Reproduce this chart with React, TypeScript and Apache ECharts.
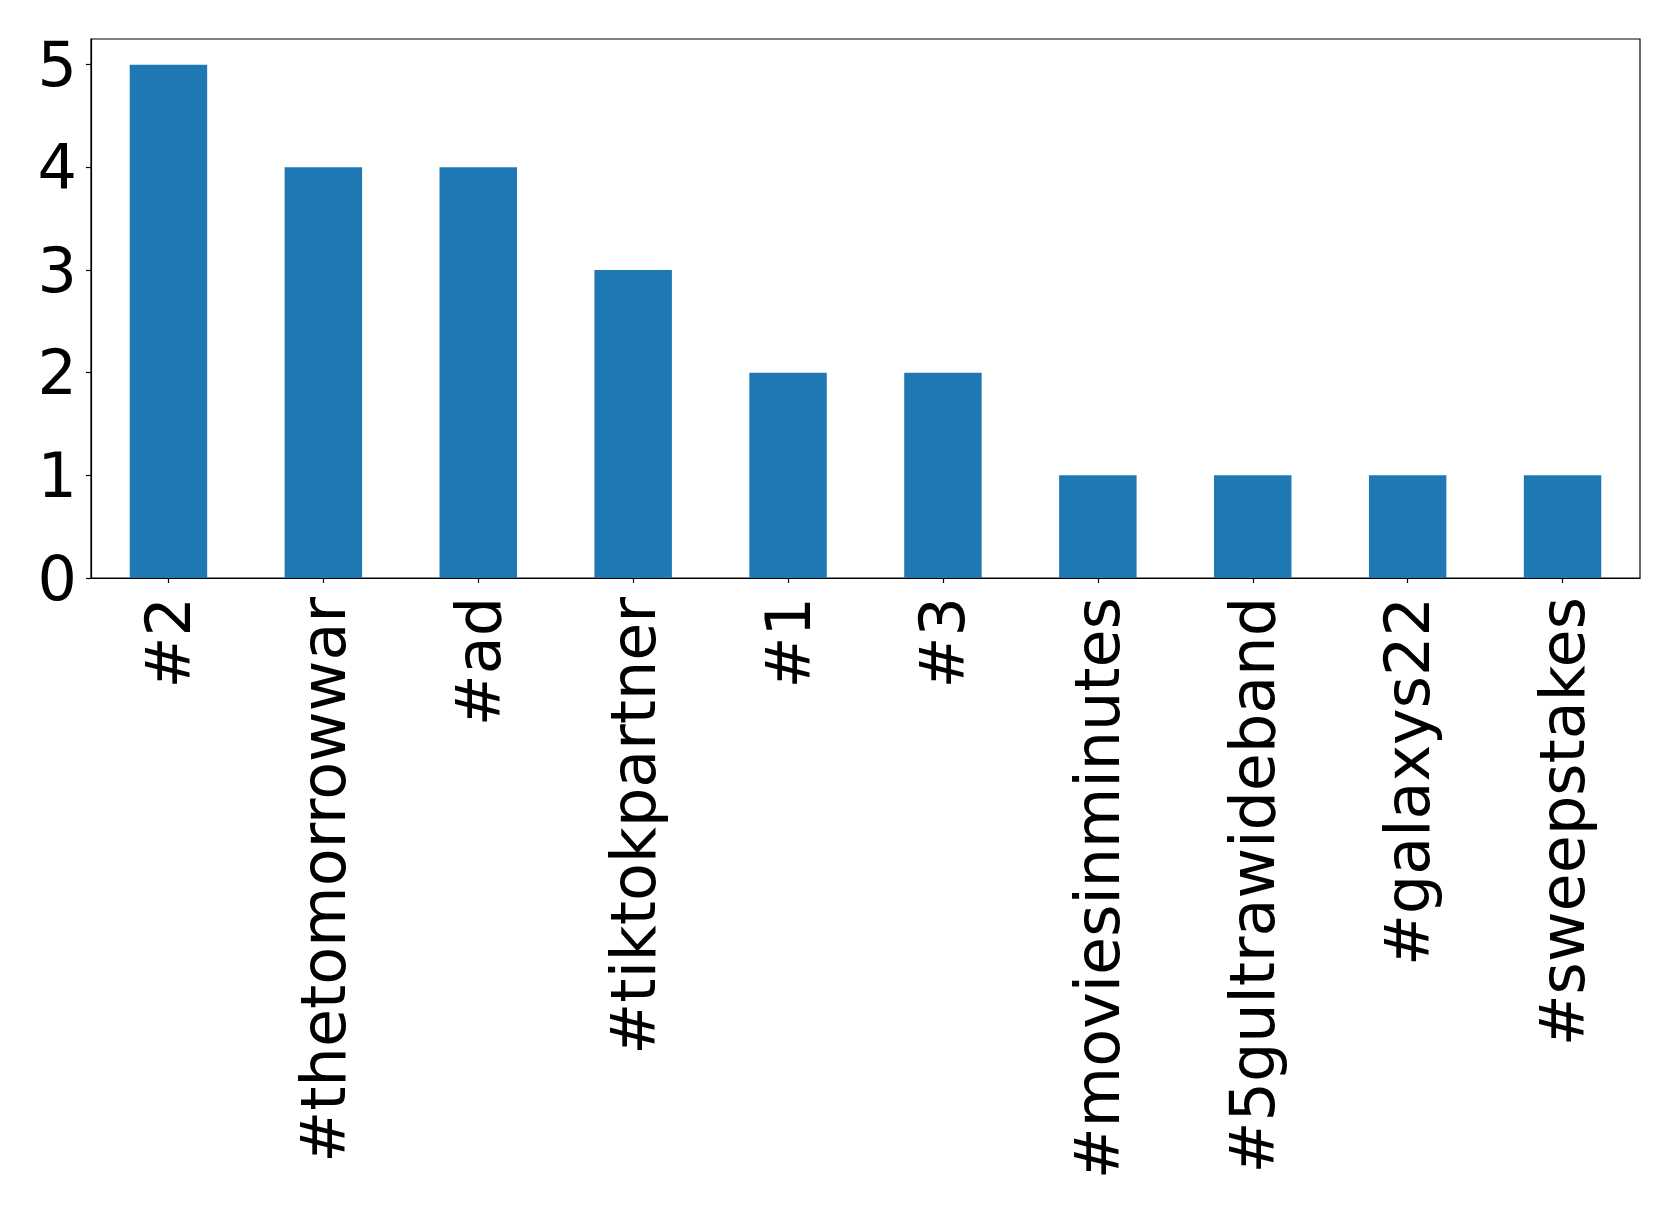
import React, { useEffect, useRef } from "react";
import * as echarts from "echarts";

const categories = [
  "#2",
  "#thetomorrowwar",
  "#ad",
  "#tiktokpartner",
  "#1",
  "#3",
  "#moviesinminutes",
  "#5gultrawideband",
  "#galaxys22",
  "#sweepstakes",
];
const counts = [5, 4, 4, 3, 2, 2, 1, 1, 1, 1];
const yTicks = [0, 1, 2, 3, 4, 5];

export default function App() {
  const ref = useRef<HTMLDivElement>(null);
  useEffect(() => {
    if (!ref.current) return;
    const chart = echarts.init(ref.current, null, { renderer: "svg" });
    const font = "DejaVu Sans";
    chart.setOption({
      animation: false,
      backgroundColor: "#ffffff",
      grid: {
        left: 91,
        right: 39,
        top: 39,
        bottom: 636,
        show: true,
        borderColor: "#000000",
        borderWidth: 1.2,
        backgroundColor: "transparent",
      },
      xAxis: {
        type: "category",
        data: categories,
        boundaryGap: true,
        axisLine: { show: true, lineStyle: { color: "#000000", width: 1.2 } },
        axisTick: {
          show: true,
          alignWithLabel: true,
          inside: false,
          length: 5,
          lineStyle: { color: "#000000", width: 1.2 },
        },
        axisLabel: {
          rotate: 90,
          interval: 0,
          margin: 19,
          fontSize: 62,
          fontFamily: font,
          color: "#000000",
        },
        splitLine: { show: false },
      },
      yAxis: {
        type: "value",
        min: 0,
        max: 5.25,
        interval: 1,
        axisLine: { show: true, lineStyle: { color: "#000000", width: 1.2 } },
        axisTick: {
          show: true,
          inside: false,
          length: 5,
          customValues: yTicks,
          lineStyle: { color: "#000000", width: 1.2 },
        },
        axisLabel: {
          margin: 14,
          fontSize: 62,
          fontFamily: font,
          color: "#000000",
          customValues: yTicks,
        },
        splitLine: { show: false },
      },
      series: [
        {
          type: "bar",
          data: counts,
          barWidth: "50%",
          itemStyle: { color: "#1f77b4" },
        },
      ],
    });
    return () => chart.dispose();
  }, []);
  return (
    <div
      ref={ref}
      style={{ position: "fixed", left: 0, top: 0, width: 1679, height: 1214 }}
    />
  );
}
